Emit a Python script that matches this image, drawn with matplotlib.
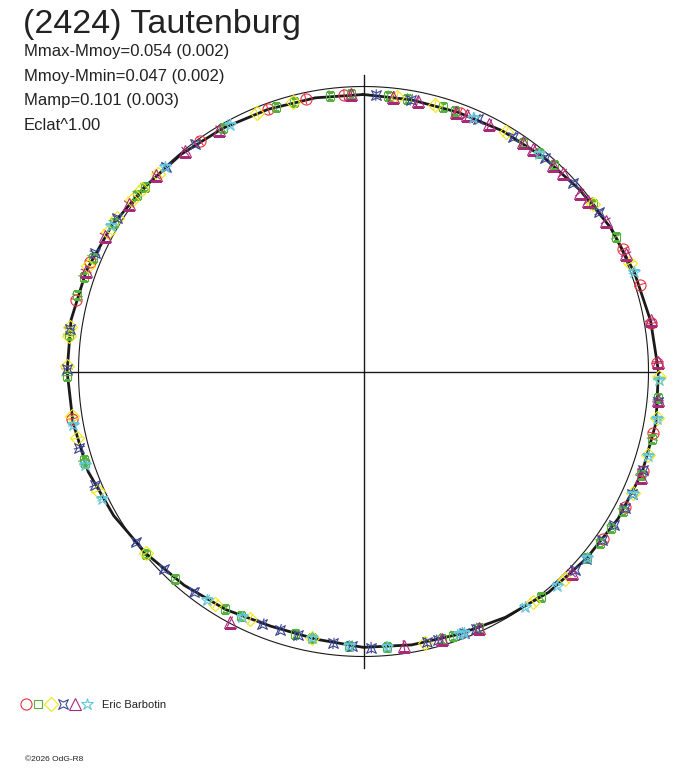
import numpy as np
import matplotlib
matplotlib.use("Agg")
import matplotlib.pyplot as plt
from matplotlib.path import Path
from matplotlib.lines import Line2D
from matplotlib.legend_handler import HandlerTuple

plt.rcParams['font.family'] = ['Liberation Sans', 'DejaVu Sans']

# ---------------- data ----------------
title = "(2424) Tautenburg"
info_lines = ["Mmax-Mmoy=0.054 (0.002)", "Mmoy-Mmin=0.047 (0.002)",
              "Mamp=0.101 (0.003)", "Eclat^1.00"]
observer_name = "Eric Barbotin"
credit = "\u00a92026 OdG-R8"

# fitted light curve (relative flux vs rotation phase in degrees, clockwise from top)
fit_deg = list(range(0, 360, 10))
fit_flux = [0.972, 0.968, 0.968, 0.975, 0.982, 0.991, 1.004, 1.012, 1.023, 1.035,
            1.042, 1.040, 1.032, 1.021, 1.011, 0.996, 0.981, 0.974, 0.968, 0.954,
            0.951, 0.965, 0.979, 0.995, 1.012, 1.028, 1.035, 1.040, 1.042, 1.035,
            1.021, 1.005, 0.995, 0.986, 0.979, 0.975]

red_deg = [348, 356, 340, 20.5, 64.8, 72.6, 80.5, 88.4, 102, 109.7, 117.3, 125,
           324.7, 291.8, 284, 260.8]
red_flux = [0.978, 0.973, 0.979, 0.968, 1.008, 1.015, 1.024, 1.031, 1.039, 1.040,
            1.034, 1.026, 0.991, 1.033, 1.039, 1.035]

green_deg = [341.6, 345.6, 353, 357.5, 5, 9, 16.7, 19.4, 330, 310.2, 308, 300.7,
             292.8, 288.6, 284.9, 277.1, 269.2, 252.5, 251.8, 230, 222.3, 210.2,
             206.7, 194.7, 191, 183, 175.2, 163.6, 161.3, 155.8, 141.8, 129.9,
             125.9, 122.3, 118.3, 110.5, 103.2, 95.1, 34.9, 38.8, 42.7, 53.8, 61.9]
green_flux = [0.978, 0.977, 0.974, 0.973, 0.970, 0.969, 0.968, 0.968, 0.986, 1.005,
              1.008, 1.020, 1.031, 1.036, 1.039, 1.042, 1.040, 1.030, 1.029, 0.995,
              0.982, 0.965, 0.960, 0.953, 0.954, 0.964, 0.971, 0.978, 0.980, 0.987,
              1.008, 1.021, 1.025, 1.029, 1.033, 1.040, 1.041, 1.039, 0.979, 0.982,
              0.985, 0.996, 1.005]

yellow_deg = [337.6, 345.4, 7, 15, 30.7, 53.8, 67.9, 91, 99, 106.4, 114.2, 135.8,
              143.7, 167.3, 191, 204.6, 212.5, 230.2, 245.8, 256.9, 261.3, 271,
              276.8, 278.6, 291, 298.6, 302, 306.5, 309.5, 314]
yellow_flux = [0.981, 0.977, 0.969, 0.968, 0.976, 0.996, 1.011, 1.036, 1.041, 1.041,
               1.037, 1.015, 1.005, 0.975, 0.954, 0.957, 0.968, 0.995, 1.021, 1.033,
               1.036, 1.040, 1.042, 1.042, 1.034, 1.023, 1.018, 1.011, 1.006, 1.000]

blue_deg = [2.6, 10, 24.4, 32.5, 40.4, 48, 55.9, 96, 109.5, 114.5, 117.6, 121.6,
            125.2, 130.2, 133.3, 156.4, 158.9, 164.5, 166.9, 178.4, 182.4, 186.3,
            194, 198, 201.9, 217.5, 225.3, 233.1, 247.1, 255, 270.5, 278.3, 293.8,
            302, 316, 323.5]
blue_flux = [0.971, 0.968, 0.972, 0.977, 0.983, 0.989, 0.999, 1.039, 1.040, 1.037,
             1.034, 1.030, 1.026, 1.021, 1.018, 0.986, 0.982, 0.978, 0.976, 0.969,
             0.965, 0.960, 0.953, 0.952, 0.954, 0.975, 0.987, 0.999, 1.024, 1.032,
             1.040, 1.042, 1.030, 1.018, 0.999, 0.992]

purple_deg = [357.5, 6.2, 11.3, 19.6, 22, 27, 34.8, 37.3, 42.5, 45.1, 50.4, 52.8,
              58.1, 65.9, 79.9, 88.1, 95.6, 110.8, 134.1, 155.8, 163.6, 171.6,
              208.1, 289.9, 297.7, 305.5, 313.4, 321, 329]
purple_flux = [0.973, 0.970, 0.968, 0.968, 0.970, 0.973, 0.979, 0.981, 0.985, 0.987,
               0.985, 0.990, 1.001, 1.009, 1.023, 1.033, 1.039, 1.040, 1.017, 0.987,
               0.978, 0.973, 0.995, 1.035, 1.025, 1.012, 1.001, 0.994, 0.987]

cyan_deg = [331.6, 23.3, 38.9, 69.8, 91.6, 99.3, 106.5, 114.4, 129.9, 138, 145.6,
            158.9, 160, 175.2, 183, 191, 206.3, 214.5, 244, 251.5, 259.5, 300, 315.9]
cyan_flux = [0.985, 0.970, 0.982, 1.012, 1.036, 1.042, 1.041, 1.037, 1.021, 1.013,
             1.003, 0.982, 0.981, 0.971, 0.964, 0.954, 0.960, 0.971, 1.019, 1.029,
             1.035, 1.021, 0.999]

flux_err = 0.02

# ---------------- styles ----------------
bowtie = Path([(-1, 1), (0, 0.5), (1, 1), (0.5, 0), (1, -1), (0, -0.5),
               (-1, -1), (-0.5, 0), (-1, 1)],
              [Path.MOVETO] + [Path.LINETO] * 7 + [Path.CLOSEPOLY])

series = [
    (red_deg, red_flux, 'o', '#e8323c', 8.0),
    (green_deg, green_flux, 's', '#55b03c', 6.0),
    (yellow_deg, yellow_flux, 'D', '#f0e614', 6.8),
    (blue_deg, blue_flux, bowtie, '#3c4696', 7.0),
    (purple_deg, purple_flux, '^', '#aa2878', 8.0),
    (cyan_deg, cyan_flux, '*', '#64c8dc', 9.0),
]

W, H = 688, 768
cx, cy = 363.5, 371.5          # pixel centre of the polar plot
R = 285.0                      # pixels for relative flux 1.0
rmax = 1.1
rad = R * rmax

fig = plt.figure(figsize=(W / 100, H / 100), dpi=100)
ax = fig.add_axes([(cx - rad) / W, (H - cy - rad) / H, 2 * rad / W, 2 * rad / H],
                  projection='polar')
ax.set_theta_zero_location('N')
ax.set_theta_direction(-1)
ax.set_ylim(0, rmax)
ax.set_axis_off()

# cross axes
for th in (0, np.pi / 2, np.pi, 3 * np.pi / 2):
    ax.plot([th, th], [0, 1.04], color='#1a1a1a', lw=1.0, zorder=1)

# reference circle (mean flux)
tc = np.linspace(0, 2 * np.pi, 721)
ax.plot(tc, np.ones_like(tc), color='#1a1a1a', lw=0.8, zorder=2)

# fitted curve
fd = np.deg2rad(np.append(fit_deg, 360))
ff = np.append(fit_flux, fit_flux[0])
ax.plot(fd, ff, color='#1a1a1a', lw=2.0, zorder=3)

# observations
for deg, flux, mk, col, ms in series:
    th = np.deg2rad(deg)
    fl = np.asarray(flux)
    ax.vlines(th, fl - flux_err, fl + flux_err, colors=col, lw=0.8, zorder=4)
    ax.plot(th, fl, ls='none', marker=mk, mfc='none', mec=col, ms=ms,
            mew=0.8, zorder=5)

# texts
txt_col = '#222222'
fig.text(23 / W, 1 - 33 / H, title, fontsize=24.5, color=txt_col, va='baseline')
for i, line in enumerate(info_lines):
    fig.text(24 / W, 1 - (56 + 24.7 * i) / H, line, fontsize=12, color=txt_col,
             va='baseline')
fig.text(25 / W, 1 - 761 / H, credit, fontsize=6, color=txt_col, va='baseline')

# legend
handles = tuple(Line2D([], [], ls='none', marker=mk, mfc='none', mec=col, ms=ms,
                       mew=0.8) for _, _, mk, col, ms in series)
fig.legend([handles], [observer_name],
           handler_map={tuple: HandlerTuple(ndivide=None, pad=0)},
           loc='center left', bbox_to_anchor=(20 / W, 1 - 705 / H),
           frameon=False, fontsize=8, handlelength=6.6, handletextpad=0.75,
           borderpad=0, borderaxespad=0, labelcolor=txt_col)

fig.savefig('out.png', dpi=100, facecolor='white')
